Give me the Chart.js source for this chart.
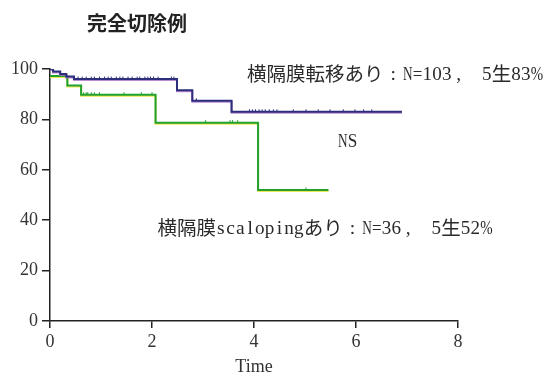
<!DOCTYPE html>
<html>
<head>
<meta charset="utf-8">
<script src="https://cdn.jsdelivr.net/npm/chart.js@4.4.1/dist/chart.umd.min.js"></script>
<style>
  html, body { margin: 0; padding: 0; background: #ffffff; }
  canvas { display: block; }
</style>
</head>
<body>
<canvas id="km" width="548" height="373"></canvas>
<script>
// Kaplan-Meier survival (%) by time (years)
const metaTimes = [0, 0.06, 0.2, 0.32, 0.47, 2.49, 2.79, 3.56, 6.9];
const metaSurv  = [100, 99.0, 98.0, 97.0, 96.0, 91.6, 87.4, 83.0, 83.0];
const scalTimes = [0, 0.34, 0.61, 2.07, 4.08, 5.46];
const scalSurv  = [97.2, 93.5, 89.8, 78.7, 52.0, 52.0];

// censored observations (time)
const metaCensor = [0.55, 0.63, 0.71, 0.81, 0.87, 0.97, 1.07, 1.14, 1.2, 1.3, 1.37, 1.43, 1.53,
  1.61, 1.71, 1.76, 1.86, 1.92, 1.97, 2.03, 2.12, 2.38, 2.43, 2.87,
  3.91, 3.97, 4.03, 4.1, 4.16, 4.22, 4.3, 4.38, 4.45, 4.77, 5.02, 5.26, 5.49, 5.75, 5.98, 6.15, 6.31];
const scalCensor = [0.66, 0.71, 0.74, 0.81, 0.87, 0.97, 1.45, 1.79, 2.0, 3.05, 3.53, 3.58, 3.68, 5.02];

const xTicks = [0, 2, 4, 6, 8];
const yTicks = [0, 20, 40, 60, 80, 100];

const chartTitle = '完全切除例';
const metaLabel = '横隔膜転移あり：N=103， 5生83%';
const scalLabel = '横隔膜scalopingあり：N=36， 5生52%';
const pLabel = 'NS';
const xTitle = 'Time';

const NAVY = '#2d2e7c';
const GREEN = '#22a032';

function toPoints(ts, ss) { return ts.map((t, i) => ({ x: t, y: ss[i] })); }
// survival level at time t from a step curve
function levelAt(ts, ss, t) {
  let v = ss[0];
  for (let i = 0; i < ts.length; i++) { if (ts[i] <= t) v = ss[i]; }
  return v;
}
function censorPoints(cs, ts, ss) { return cs.map(t => ({ x: t, y: levelAt(ts, ss, t) })); }

// Mincho-like text: full-width glyphs in 1em cells, half-width in 0.5em cells
function drawCells(ctx, text, x, y, em, color) {
  const latin = `${em}px 'Liberation Serif'`;
  ctx.save();
  ctx.fillStyle = color;
  ctx.textBaseline = 'middle';
  ctx.textAlign = 'center';
  let cx = x;
  for (const ch of text) {
    if (ch === ' ') { cx += em * 0.55; continue; }
    if (ch === '：') {
      ctx.font = latin;
      ctx.fillText(':', cx + em / 2, y + 1);
      cx += em; continue;
    }
    if (ch === '，') {
      ctx.font = latin;
      ctx.fillText(',', cx + em * 0.35, y + 1);
      cx += em; continue;
    }
    const full = ch.charCodeAt(0) > 0x2000;
    const cell = (full ? em : em / 2) * (ch === '%' ? 1.3 : 1);
    ctx.font = full ? `${em}px 'Noto Sans CJK JP'` : latin;
    const w = ctx.measureText(ch).width;
    const cxm = cx + cell / 2;
    if (!full && w > cell * 0.98) {
      ctx.save();
      ctx.translate(cxm, y + 1);
      ctx.scale(cell * 0.98 / w, 1);
      ctx.fillText(ch, 0, 0);
      ctx.restore();
    } else {
      ctx.fillText(ch, cxm, y + (full ? 0 : 1));
    }
    cx += cell;
  }
  ctx.restore();
}

const shadowPlugin = {
  id: 'lineEdge',
  beforeDatasetDraw(chart, args) {
    const ds = chart.data.datasets[args.index];
    if (!ds.edgeColor) return;
    const ctx = chart.ctx;
    ctx.save();
    ctx.shadowColor = ds.edgeColor;
    ctx.shadowOffsetX = 0;
    ctx.shadowOffsetY = 1;
    ctx.shadowBlur = 0;
  },
  afterDatasetDraw(chart, args) {
    const ds = chart.data.datasets[args.index];
    if (!ds.edgeColor) return;
    chart.ctx.restore();
  }
};

const textPlugin = {
  id: 'annotations',
  afterDraw(chart) {
    const ctx = chart.ctx;
    ctx.save();
    ctx.fillStyle = '#222';
    ctx.font = "bold 20px 'Noto Sans CJK JP'";
    ctx.textBaseline = 'middle';
    ctx.textAlign = 'left';
    ctx.fillText(chartTitle, 87, 23);
    ctx.restore();
    drawCells(ctx, metaLabel, 247, 74, 19.5, '#2a2a2a');
    drawCells(ctx, pLabel, 338, 141, 19.5, '#2a2a2a');
    drawCells(ctx, scalLabel, 157.5, 228, 19.5, '#2a2a2a');
  }
};

const tickFont = { family: "'Liberation Serif'", size: 18 };

new Chart(document.getElementById('km'), {
  type: 'line',
  data: {
    datasets: [
      {
        data: toPoints(metaTimes, metaSurv),
        stepped: true, borderColor: NAVY, borderWidth: 2, pointRadius: 0,
        fill: false, edgeColor: 'rgba(170,110,200,0.8)'
      },
      {
        data: toPoints(scalTimes, scalSurv),
        stepped: true, borderColor: GREEN, borderWidth: 2, pointRadius: 0,
        fill: false, edgeColor: 'rgba(235,230,60,0.9)'
      },
      {
        type: 'scatter',
        data: censorPoints(metaCensor, metaTimes, metaSurv),
        showLine: false, pointStyle: 'dash', rotation: 270, pointRadius: 2.5,
        borderColor: NAVY, borderWidth: 1, backgroundColor: NAVY
      },
      {
        type: 'scatter',
        data: censorPoints(scalCensor, scalTimes, scalSurv),
        showLine: false, pointStyle: 'dash', rotation: 270, pointRadius: 2.5,
        borderColor: GREEN, borderWidth: 1, backgroundColor: GREEN
      }
    ]
  },
  options: {
    responsive: false,
    animation: false,
    devicePixelRatio: 1,
    layout: { padding: { left: 0, right: 90, top: 69, bottom: 0 } },
    scales: {
      x: {
        type: 'linear', min: 0, max: 8,
        afterBuildTicks: s => { s.ticks = xTicks.map(v => ({ value: v })); },
        afterFit: s => { s.height = 52; },
        ticks: { font: tickFont, color: '#333', padding: 3, maxRotation: 0 },
        grid: { display: true, drawOnChartArea: false, drawTicks: true, tickLength: 7, color: '#222', lineWidth: 1.5 },
        border: { display: true, color: '#222', width: 1.5 },
        title: { display: true, text: xTitle, color: '#333', font: { family: "'Liberation Serif'", size: 18, lineHeight: 1 }, padding: { top: 0, bottom: -3 } }
      },
      y: {
        type: 'linear', min: 0, max: 100,
        afterBuildTicks: s => { s.ticks = yTicks.map(v => ({ value: v })); },
        afterFit: s => { s.width = 50; },
        ticks: { font: tickFont, color: '#333', padding: 4 },
        grid: { display: true, drawOnChartArea: false, drawTicks: true, tickLength: 8, color: '#222', lineWidth: 1.5 },
        border: { display: true, color: '#222', width: 1.5 }
      }
    },
    plugins: { legend: { display: false }, tooltip: { enabled: false }, title: { display: false } }
  },
  plugins: [shadowPlugin, textPlugin]
});
</script>
</body>
</html>
